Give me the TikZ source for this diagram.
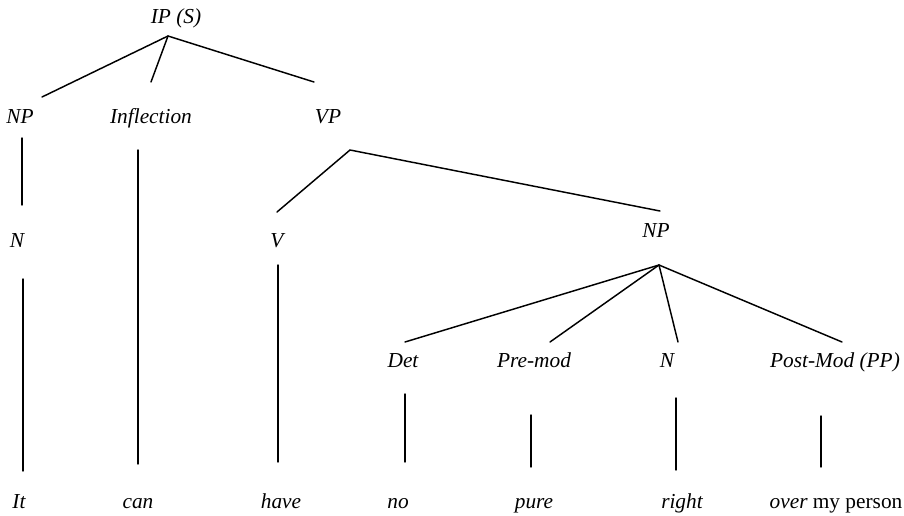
\documentclass[tikz,border=0pt]{standalone}
\usepackage{fontspec}
\setmainfont{Liberation Serif}
\begin{document}
\begin{tikzpicture}[x=0.75pt,y=-0.75pt,line cap=round,
  lbl/.style={font=\fontsize{16}{19}\selectfont\itshape,anchor=base,inner sep=0pt},
  branch/.style={line width=1.1pt}]
\useasboundingbox (0,0) rectangle (904,515);
% labels
\node [lbl] (ip) at (176,23) {IP (S)};
\node [lbl] (np) at (20,123) {NP};
\node [lbl] (infl) at (151,123) {Inflection};
\node [lbl] (vp) at (328,123) {VP};
\node [lbl] (n) at (17,247) {N};
\node [lbl] (v) at (277,247) {V};
\node [lbl] (np2) at (656,237) {NP};
\node [lbl] (det) at (403,367) {Det};
\node [lbl] (premod) at (534,367) {Pre-mod};
\node [lbl] (n2) at (667,367) {N};
\node [lbl] (postmod) at (835,367) {Post-Mod (PP)};
\node [lbl] (it) at (19,508) {It};
\node [lbl] (can) at (138,508) {can};
\node [lbl] (have) at (281,508) {have};
\node [lbl] (no) at (398,508) {no};
\node [lbl] (pure) at (534,508) {pure};
\node [lbl] (right) at (682,508) {right};
\node [lbl] (over) at (836,508) {over \upshape my person};
% branch ends
\coordinate (ip-fork) at (168,36);
\coordinate (np-in) at (42,97);
\coordinate (infl-in) at (151,82);
\coordinate (vp-in) at (314,82);
\coordinate (np-out) at (22,138);
\coordinate (n-in) at (22,205);
\coordinate (n-out) at (23,279);
\coordinate (it-in) at (23,471);
\coordinate (infl-out) at (138,150);
\coordinate (can-in) at (138,464);
\coordinate (vp-fork) at (350,150);
\coordinate (v-in) at (277,212);
\coordinate (np2-in) at (660,211);
\coordinate (v-out) at (278,265);
\coordinate (have-in) at (278,462);
\coordinate (np2-fork) at (659,265);
\coordinate (det-in) at (405,342);
\coordinate (premod-in) at (550,342);
\coordinate (n2-in) at (678,342);
\coordinate (postmod-in) at (842,342);
\coordinate (det-out) at (405,394);
\coordinate (no-in) at (405,462);
\coordinate (premod-out) at (531,415);
\coordinate (pure-in) at (531,467);
\coordinate (n2-out) at (676,398);
\coordinate (right-in) at (676,470);
\coordinate (postmod-out) at (821,416);
\coordinate (over-in) at (821,467);
% branches
\draw [branch] (np-in) -- (ip-fork) -- (vp-in);
\draw [branch] (ip-fork) -- (infl-in);
\draw [branch] (np-out) -- (n-in);
\draw [branch] (n-out) -- (it-in);
\draw [branch] (infl-out) -- (can-in);
\draw [branch] (v-in) -- (vp-fork) -- (np2-in);
\draw [branch] (v-out) -- (have-in);
\draw [branch] (det-in) -- (np2-fork) -- (postmod-in);
\draw [branch] (np2-fork) -- (premod-in);
\draw [branch] (np2-fork) -- (n2-in);
\draw [branch] (det-out) -- (no-in);
\draw [branch] (premod-out) -- (pure-in);
\draw [branch] (n2-out) -- (right-in);
\draw [branch] (postmod-out) -- (over-in);
\end{tikzpicture}
\end{document}
